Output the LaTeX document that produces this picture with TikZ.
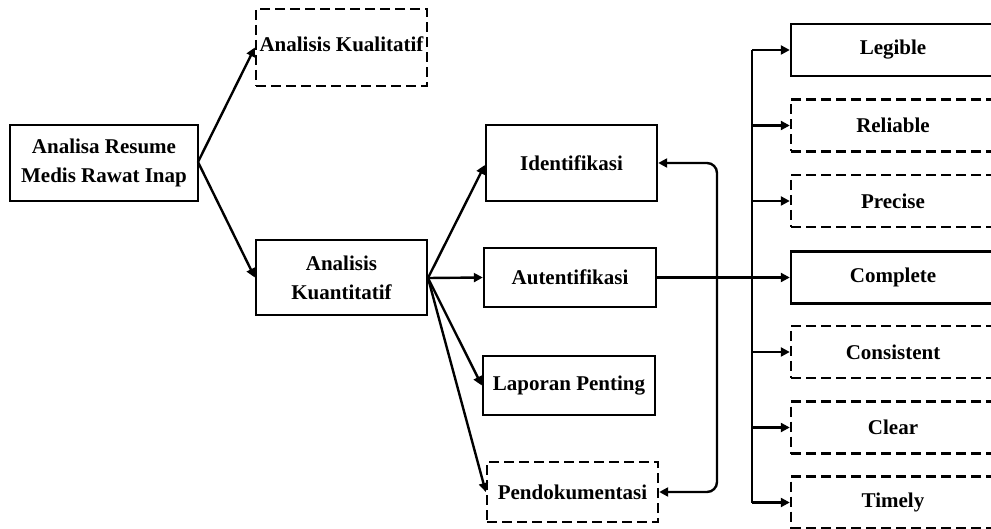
\documentclass[tikz,border=0pt]{standalone}
\usepackage{fontspec}
\setmainfont{Liberation Serif}
\usetikzlibrary{arrows.meta}
\begin{document}
\begin{tikzpicture}[x=1pt,y=-1pt,
  every node/.style={font=\fontsize{21}{29}\selectfont\bfseries, align=center, inner sep=0pt},
  box/.style={draw, line width=2.4pt, rectangle},
  dbox/.style={box, dash pattern=on 10pt off 5pt},
  rbox/.style={box, minimum width=204pt, minimum height=52pt},
  rdbox/.style={dbox, minimum width=204pt, minimum height=52pt},
  conn/.style={line width=2.4pt, -{Triangle[length=9pt,width=9pt]}},
  line/.style={line width=2.4pt}]
\clip (0,0) rectangle (991,529);
% left
\node[box, minimum width=188pt, minimum height=76pt] (res) at (104,163) {Analisa Resume\\Medis Rawat Inap};
\node[dbox, minimum width=171pt, minimum height=77pt] (kual) at (341.5,47.5) {\raisebox{6pt}{Analisis Kualitatif}};
\node[box, minimum width=171pt, minimum height=75pt] (kuan) at (341.5,277.5) {Analisis\\Kuantitatif};
% middle
\node[box, minimum width=171pt, minimum height=76pt] (iden) at (571.5,163) {Identifikasi};
\node[box, minimum width=172pt, minimum height=59pt] (aut) at (570,277.5) {Autentifikasi};
\node[box, minimum width=172pt, minimum height=59pt] (lap) at (569,385.5) {Laporan Penting};
\node[dbox, minimum width=171pt, minimum height=60pt] (pen) at (572.5,492) {Pendokumentasi};
% right
\node[rbox] (leg) at (893,50) {Legible};
\node[rdbox] (rel) at (893,125.5) {Reliable};
\node[rdbox] (pre) at (893,201) {Precise};
\node[rbox] (com) at (893,277.5) {Complete};
\node[rdbox] (con) at (893,352) {Consistent};
\node[rdbox] (cle) at (893,427.5) {Clear};
\node[rdbox] (tim) at (893,502.5) {Timely};
% connectors left
\coordinate (rs) at (198,162);
\draw[conn] (rs) -- (kual.west);
\draw[conn] (rs) -- (kuan.west);
\coordinate (ks) at (428,278);
\draw[conn] (ks) -- (iden.west |- 0,165);
\draw[conn] (ks) -- (aut.west);
\draw[conn] (ks) -- (lap.west);
\draw[conn] (ks) -- (pen.west);
% bracket
\coordinate (brk) at (717,300);
\draw[line, {Triangle[length=9pt,width=9pt]}-{Triangle[length=9pt,width=9pt]}, rounded corners=10pt]
  (iden.east) -- (iden.east -| brk) -- (pen.east -| brk) -- (pen.east);
% bus
\coordinate (bus1) at (752,50);
\coordinate (bus2) at (752,125.5);
\coordinate (bus3) at (752,201);
\coordinate (bus5) at (752,352);
\coordinate (bus6) at (752,427.5);
\coordinate (bus7) at (752,502.5);
\draw[line] (bus1) -- (bus7);
\draw[conn] (bus1) -- (leg.west);
\draw[conn] (bus2) -- (rel.west);
\draw[conn] (bus3) -- (pre.west);
\draw[conn] (aut.east) -- (com.west);
\draw[conn] (bus5) -- (con.west);
\draw[conn] (bus6) -- (cle.west);
\draw[conn] (bus7) -- (tim.west);
\end{tikzpicture}
\end{document}
